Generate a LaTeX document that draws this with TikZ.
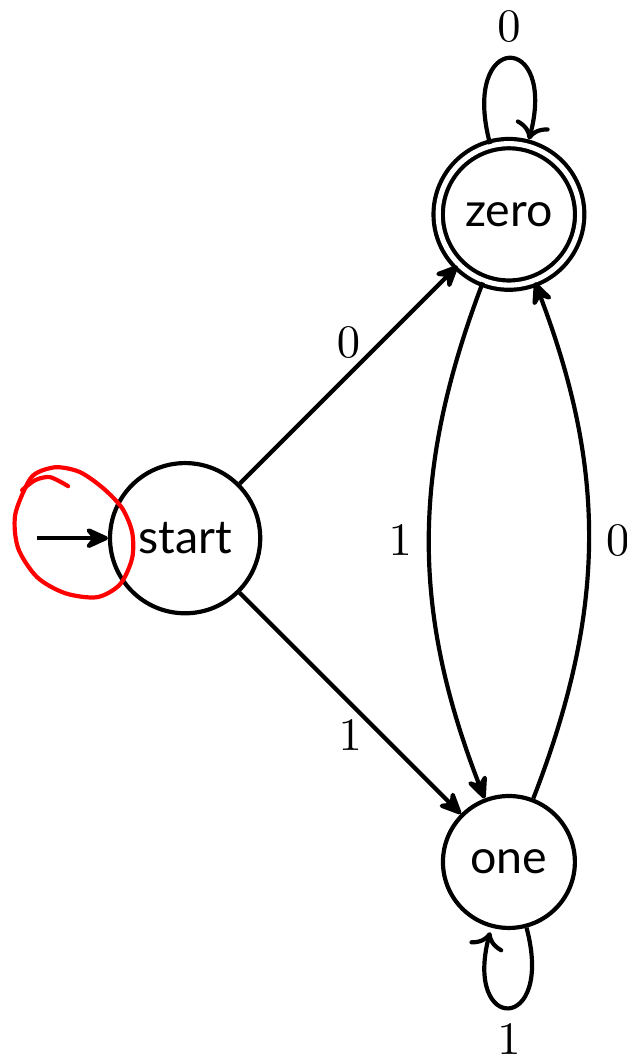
\documentclass[tikz,border=0pt]{standalone}
\usepackage{fontspec}
\newfontfamily\statefont{Lato}
\usepackage{tikz}
\usetikzlibrary{arrows, arrows.meta, positioning}

\begin{document}
\begin{tikzpicture}[node distance=3.46cm]

	% Define state styles
	\tikzstyle{state} = [circle, draw, line width=0.9pt, inner sep=4.2pt, font=\statefont]
	\tikzstyle{accept} = [state, double, double distance=1.1pt]
	\tikzstyle{line} = [draw, line width=0.9pt, -{Stealth[round, length=6.2pt, width=5.6pt, inset=2.2pt]}]
	\tikzstyle{scribble} = [draw=red, line width=0.9pt, line cap=round, line join=round]

	\useasboundingbox (-39.8pt,-112.4pt) rectangle (94.8pt,115.7pt);

	% Nodes
	\node [state] (start) {start};
	\node [accept, above right of=start] (zero) {zero};
	\node [state, below right of=start] (one) {one};
	\coordinate [left of=start, node distance=1.12cm] (entry);

	% Paths
	\path [line] (entry) -- (start);
	\path [line] (start) -- node [above] {$0$} (zero);
	\path [line] (start) -- node [below] {$1$} (one);
	\path [line] (zero) to [bend right=21] node [left] {$1$} (one);
	\path [line] (one) to [bend right=21] node [right] {$0$} (zero);
	\path [line] (zero) edge [loop above] node [above] {$0$} ();
	\path [line] (one) edge [loop below] node [below] {$1$} ();

	% red pen mark round the entry arrow
	\begin{scope}[shift={(start.center)}, x=0.215pt, y=-0.215pt]
		\draw [scribble] plot [smooth] coordinates {(-163,-48) (-150,-58) (-135,-61) (-117,-52)};
		\draw [scribble] plot [smooth cycle] coordinates {(-157,-56) (-170,-23) (-167,10) (-148,39) (-120,55) (-88,59) (-65,46) (-53,20) (-53,-6) (-63,-30) (-82,-50) (-105,-66) (-128,-71) (-147,-66)};
	\end{scope}
\end{tikzpicture}
\end{document}
